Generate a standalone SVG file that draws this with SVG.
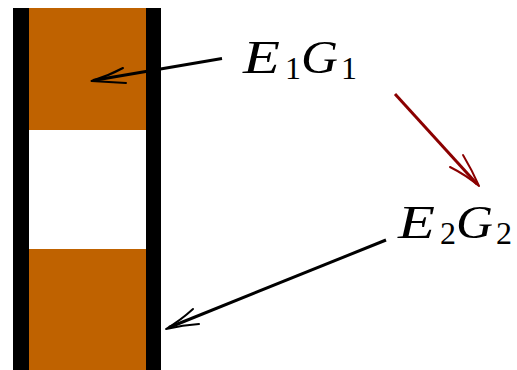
<svg xmlns="http://www.w3.org/2000/svg" width="517" height="370" viewBox="0 0 517 370">
<defs>
<style>
.bar{fill:#000}
.fill{fill:#bf6200}
.lbl{font-family:"Liberation Serif",serif;font-style:italic;font-size:47px;fill:#000}
.sub{font-family:"Liberation Serif",serif;font-style:normal;font-size:32px;fill:#000}
.conn{fill:none;stroke:#000;stroke-width:3;stroke-linecap:butt}
.head{fill:none;stroke:#000;stroke-width:2;stroke-linecap:round;stroke-linejoin:round}
</style>
</defs>
<g id="container">
<rect class="bar" x="13" y="8" width="16" height="362"/>
<rect class="bar" x="146" y="8" width="15" height="362"/>
<rect class="fill" x="29" y="8" width="117" height="122"/>
<rect class="fill" x="29" y="249" width="117" height="121"/>
</g>
<g id="E1G1">
<text class="lbl" x="243" y="73" textLength="37" lengthAdjust="spacingAndGlyphs">E</text>
<text class="sub" x="285" y="79">1</text>
<text class="lbl" x="301" y="73" textLength="37" lengthAdjust="spacingAndGlyphs">G</text>
<text class="sub" x="341" y="79">1</text>
</g>
<g id="E2G2">
<text class="lbl" x="398" y="238" textLength="37" lengthAdjust="spacingAndGlyphs">E</text>
<text class="sub" x="440" y="244">2</text>
<text class="lbl" x="456" y="238" textLength="37" lengthAdjust="spacingAndGlyphs">G</text>
<text class="sub" x="496" y="244">2</text>
</g>
<g id="connectors">
<line class="conn" x1="222" y1="58.5" x2="93" y2="80.5"/>
<path class="head" d="M123,68 Q108,76 91.5,81 Q108,82 126,83"/>
<line class="conn" x1="386" y1="240" x2="169" y2="327.5"/>
<path class="head" d="M193,309 Q181,320 166,329 Q183,325 199,324"/>
<line class="conn" x1="395" y1="94" x2="477" y2="184" style="stroke:#8b0000"/>
<path class="head" d="M450,167 Q466,175 479,186 Q472,170 463,155" style="stroke:#8b0000"/>
</g>
</svg>
